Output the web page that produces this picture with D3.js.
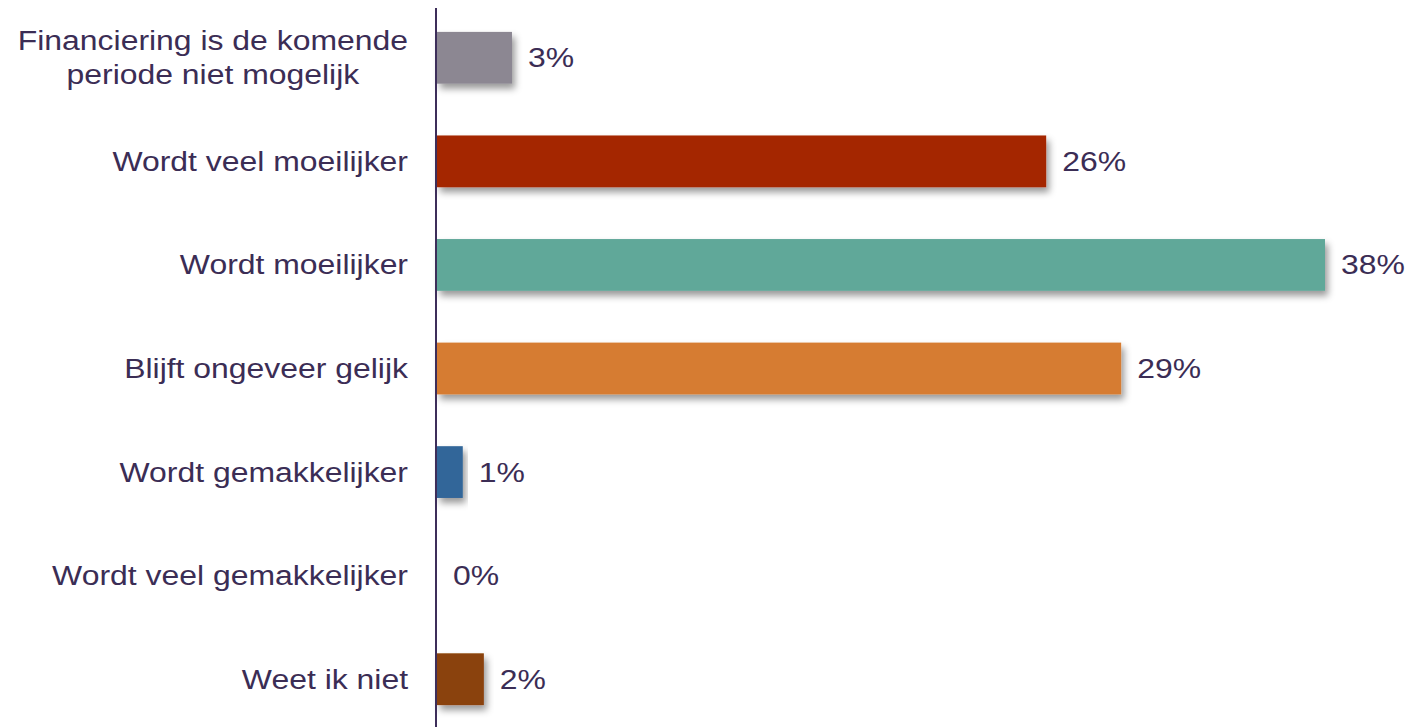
<!DOCTYPE html>
<html>
<head>
<meta charset="utf-8">
<script src="https://cdn.jsdelivr.net/npm/d3@7"></script>
<style>
  html, body { margin: 0; padding: 0; background: #ffffff; }
  svg { display: block; }
  text { font-family: "Liberation Sans", Arial, sans-serif; fill: #3b2d55; }
</style>
</head>
<body>
<svg id="chart" width="1412" height="727"></svg>
<script>
const categories = [
  ["Financiering is de komende", "periode niet mogelijk"],
  ["Wordt veel moeilijker"],
  ["Wordt moeilijker"],
  ["Blijft ongeveer gelijk"],
  ["Wordt gemakkelijker"],
  ["Wordt veel gemakkelijker"],
  ["Weet ik niet"]
];
const values = [3.2, 26.0, 37.9, 29.2, 1.1, 0, 2.0];
const valueLabels = ["3%", "26%", "38%", "29%", "1%", "0%", "2%"];
const colors = ["#8c8792", "#a42800", "#60a899", "#d67b33", "#336699", "#6e6e6e", "#8a4209"];

const FS = 28, SX = 1.14;

const svg = d3.select("#chart");
const defs = svg.append("defs");
const f = defs.append("filter").attr("id", "shadow")
  .attr("x", "-10%").attr("y", "-20%").attr("width", "130%").attr("height", "160%");
f.append("feDropShadow").attr("dx", 3).attr("dy", 5).attr("stdDeviation", 3.5)
  .attr("flood-color", "#000").attr("flood-opacity", 0.4);

const idx = d3.range(categories.length);
const y = d3.scaleBand().domain(idx).range([6, 731]).paddingInner(0.5).paddingOuter(0.25);
const x = d3.scaleLinear().domain([0, 40]).range([437, 437 + 40 * 23.43]);

svg.append("g").selectAll("rect").data(idx).join("rect")
  .attr("x", x(0))
  .attr("y", i => y(i))
  .attr("width", i => x(values[i]) - x(0))
  .attr("height", y.bandwidth())
  .attr("fill", i => colors[i])
  .attr("filter", i => values[i] > 0 ? "url(#shadow)" : null);

// axis line
const yAxis = d3.axisLeft(y).tickSize(0).tickFormat("");
const ag = svg.append("g").attr("transform", `translate(${x(0) - 1},0)`).call(yAxis);
ag.select(".domain").attr("d", "M0,8V727").attr("stroke", "#3d2e5a").attr("stroke-width", 2);

// category labels (multi-line labels centred within their block, block right-aligned)
const lg = svg.append("g");
idx.forEach(i => {
  const lines = categories[i];
  const cy = y(i) + y.bandwidth() / 2;
  const lh = 34;
  const t = lg.append("text")
    .attr("transform", `translate(408,0) scale(${SX},1)`)
    .attr("font-size", FS);
  const spans = lines.map((ln, k) => t.append("tspan")
      .attr("y", cy + (k - (lines.length - 1) / 2) * lh)
      .attr("dy", "0.34em")
      .text(ln));
  if (lines.length === 1) {
    t.attr("text-anchor", "end");
    spans.forEach(s => s.attr("x", 0));
  } else {
    const maxW = d3.max(spans, s => s.node().getComputedTextLength());
    t.attr("text-anchor", "middle");
    spans.forEach(s => s.attr("x", -maxW / 2));
  }
});

// value labels
svg.append("g").selectAll("text").data(idx).join("text")
  .attr("transform", i => `translate(${x(values[i]) + 16},0) scale(${SX},1)`)
  .attr("x", 0)
  .attr("y", i => y(i) + y.bandwidth() / 2)
  .attr("dy", "0.34em")
  .attr("font-size", FS)
  .text(i => valueLabels[i]);
</script>
</body>
</html>
